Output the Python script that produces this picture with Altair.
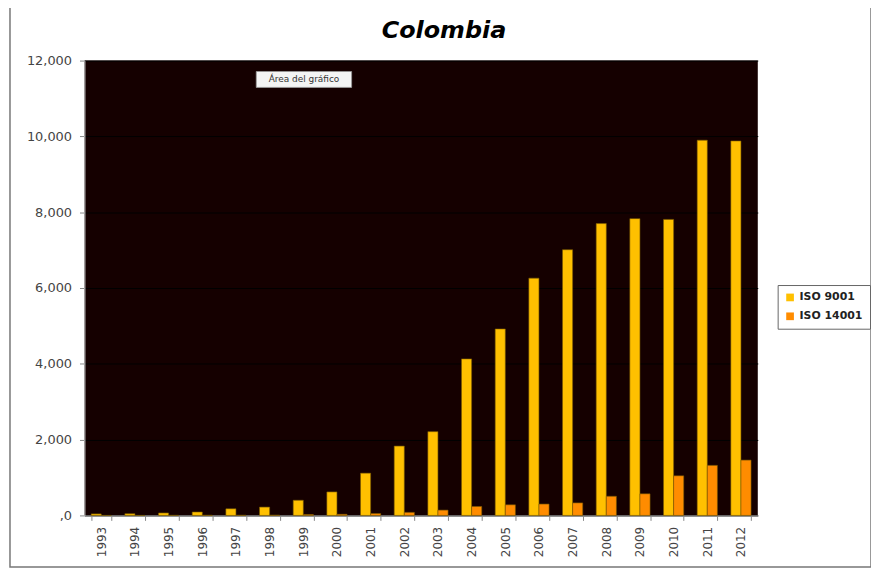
import altair as alt
import pandas as pd

years = [str(y) for y in range(1993, 2013)]
iso9001 = [40, 45, 65, 90, 175, 220, 400, 620, 1115, 1830, 2210, 4130, 4920, 6260, 7010, 7700, 7830, 7810, 9900, 9880]
iso14001 = [0, 0, 3, 5, 5, 8, 25, 30, 50, 80, 140, 236, 280, 300, 330, 505, 570, 1045, 1320, 1460]
series = ["ISO 9001", "ISO 14001"]
colors = ["#FFC000", "#FF8C00"]
title_text = "Colombia"
tip_text = "Área del gráfico"

rows = []
for i, y in enumerate(years):
    rows.append({"year": y, "serie": series[0], "value": iso9001[i]})
    rows.append({"year": y, "serie": series[1], "value": iso14001[i]})
df = pd.DataFrame(rows)

W, H = 678, 458
FONT = "DejaVu Sans"

bars = alt.Chart(df).mark_bar(stroke="#7a5a00", strokeWidth=0.6).encode(
    x=alt.X("year:N", sort=years, title=None,
            scale=alt.Scale(paddingInner=0.4, paddingOuter=0.2),
            axis=alt.Axis(labelAngle=270, labelFont=FONT, labelFontSize=12,
                          labelColor="#444", tickBand="extent", tickColor="#888",
                          tickSize=5, domainColor="#888", labelPadding=6,
                          labelAlign="right", labelBaseline="middle")),
    xOffset=alt.XOffset("serie:N", sort=series),
    y=alt.Y("value:Q", title=None,
            scale=alt.Scale(domain=[0, 12000], nice=False),
            axis=alt.Axis(values=[0, 2000, 4000, 6000, 8000, 10000, 12000],
                          labelExpr="datum.value == 0 ? ',0' : format(datum.value, ',')",
                          labelFont=FONT, labelFontSize=13, labelColor="#444",
                          tickColor="#888", tickSize=5, domainColor="#bbb",
                          gridColor="#000000", gridWidth=1, labelPadding=8)),
    color=alt.Color("serie:N", sort=series,
                    scale=alt.Scale(domain=series, range=colors),
                    legend=alt.Legend(title=None, orient="none", legendX=698, legendY=226,
                                      symbolType="square", symbolSize=60,
                                      symbolStrokeWidth=0, labelFont=FONT,
                                      labelFontSize=11, labelFontWeight="bold",
                                      labelColor="#222", strokeColor="#666",
                                      fillColor="white", padding=7, rowPadding=7)),
)

one = pd.DataFrame({"a": [0]})
frame = alt.Chart(one).mark_rect(fill=None, stroke="#777", strokeWidth=1.5).encode(
    x=alt.value(-75), x2=alt.value(792), y=alt.value(-54), y2=alt.value(510)
)
tipbox = alt.Chart(one).mark_rect(fill="#f4f4f4", stroke="#999", strokeWidth=0.8).encode(
    x=alt.value(173), x2=alt.value(269), y=alt.value(11), y2=alt.value(27)
)
tiptext = alt.Chart(one).mark_text(font=FONT, fontSize=9, color="#333").encode(
    x=alt.value(221), y=alt.value(19), text=alt.value(tip_text)
)
title = alt.Chart(one).mark_text(font=FONT, fontSize=24, fontWeight="bold",
                                 fontStyle="italic", color="#000",
                                 baseline="middle").encode(
    x=alt.value(362), y=alt.value(-30), text=alt.value(title_text)
)

chart = alt.layer(frame, bars, tipbox, tiptext, title).properties(
    width=W, height=H,
    autosize=alt.AutoSizeParams(type="none"),
    padding={"left": 77, "top": 51, "right": 114, "bottom": 52},
    background="white",
).configure_view(fill="#150000", stroke=None)

chart.save("out.html", embed_options={"renderer": "svg", "actions": False})
